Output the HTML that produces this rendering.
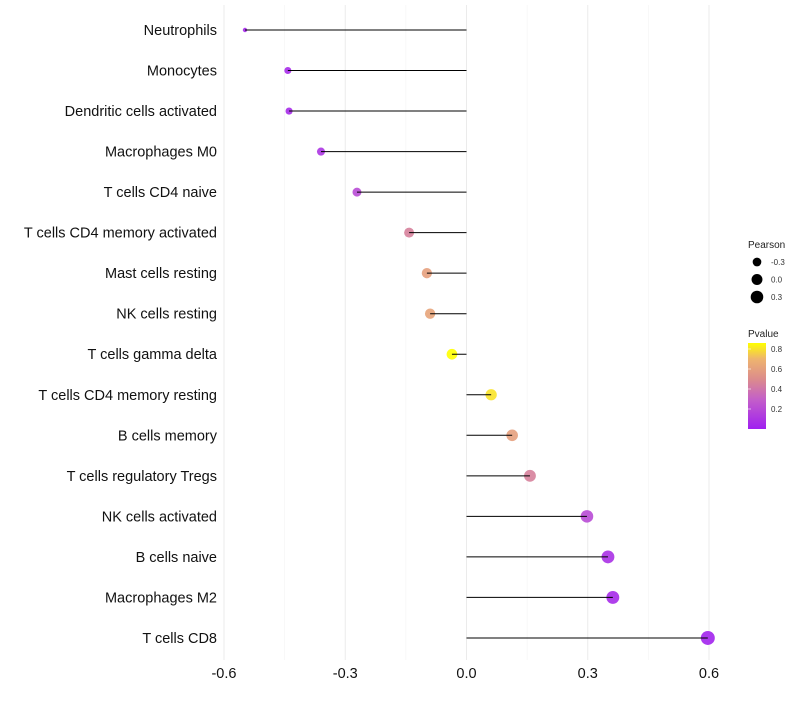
<!DOCTYPE html>
<html><head><meta charset="utf-8"><style>
body{margin:0;background:#fff;font-family:"Liberation Sans",sans-serif}
</style></head><body>
<svg id="chart" width="800" height="700" xmlns="http://www.w3.org/2000/svg" font-family="Liberation Sans, sans-serif"></svg>
<script>
const categories=["Neutrophils","Monocytes","Dendritic cells activated","Macrophages M0","T cells CD4 naive","T cells CD4 memory activated","Mast cells resting","NK cells resting","T cells gamma delta","T cells CD4 memory resting","B cells memory","T cells regulatory  Tregs ","NK cells activated","B cells naive","Macrophages M2","T cells CD8"];
const pearson=[-0.548,-0.442,-0.439,-0.36,-0.271,-0.142,-0.098,-0.09,-0.036,0.061,0.113,0.157,0.298,0.35,0.362,0.597];
const pvalue=[0.04,0.05,0.05,0.1,0.2,0.45,0.6,0.62,0.86,0.8,0.6,0.45,0.2,0.08,0.05,0.02];
const xTicks=[-0.6,-0.3,0.0,0.3,0.6];
const xTickLabels=["-0.6","-0.3","0.0","0.3","0.6"];
const sizeLegend=[-0.3,0.0,0.3];
const pLegendTicks=[0.2,0.4,0.6,0.8];

const svg=document.getElementById('chart');
const NS="http://www.w3.org/2000/svg";
const x=v=>466.5+v*404.2;
const y=i=>30+i*40.53;
const r=v=>2+5*Math.sqrt(Math.max(0,(v+0.55))/1.15);
const stops=[[0,[160,32,240]],[0.3,[196,96,200]],[0.5,[220,140,140]],[0.7,[238,180,110]],[0.86,[255,255,0]]];
function col(p){p=Math.max(0,Math.min(0.86,p));for(let k=1;k<stops.length;k++){if(p<=stops[k][0]){const a=stops[k-1],b=stops[k],t=(p-a[0])/(b[0]-a[0]);return 'rgb('+a[1].map((c,j)=>Math.round(c+(b[1][j]-c)*t)).join(',')+')';}}return 'rgb(255,255,0)';}
function el(t,attrs,txt){const e=document.createElementNS(NS,t);for(const k in attrs)e.setAttribute(k,attrs[k]);if(txt!==undefined)e.textContent=txt;svg.appendChild(e);return e;}

for(let k=0;k<xTicks.length-1;k++){const m=(xTicks[k]+xTicks[k+1])/2;
const g=el('line',{x1:x(m),x2:x(m),y1:5,y2:660,stroke:'#f4f4f4','stroke-width':0.6});

}
xTicks.forEach((t,k)=>{
const g=el('line',{x1:x(t),x2:x(t),y1:5,y2:660,stroke:'#ebebeb','stroke-width':1});


const l=el('text',{x:x(t),y:678,'text-anchor':'middle','font-size':14.5,fill:'#111'},xTickLabels[k]);


});
categories.forEach((c,i)=>{
const l=el('text',{x:217,y:y(i)+5,'text-anchor':'end','font-size':14.5,fill:'#111'},c);


const d=el('circle',{cx:x(pearson[i]),cy:y(i),r:r(pearson[i]),fill:col(pvalue[i]),'fill-opacity':0.9});


const s=el('line',{x1:x(0),x2:x(pearson[i]),y1:y(i),y2:y(i),stroke:'#000','stroke-width':1});


});
const lt=el('text',{x:748,y:248,'font-size':10,fill:'#222'},'Pearson');


sizeLegend.forEach((v,k)=>{
const cy=262+k*17.5;
const c=el('circle',{cx:757,cy:cy,r:r(v),fill:'#000'});


const t=el('text',{x:771,y:cy+3,'font-size':8,fill:'#333'},v.toFixed(1));


});
const pt=el('text',{x:748,y:337,'font-size':10,fill:'#222'},'Pvalue');


const defs=el('defs',{});
const lg=document.createElementNS(NS,'linearGradient');lg.setAttribute('id','pg');lg.setAttribute('x1',0);lg.setAttribute('x2',0);lg.setAttribute('y1',1);lg.setAttribute('y2',0);
stops.forEach(s=>{const st=document.createElementNS(NS,'stop');st.setAttribute('offset',s[0]/0.86);st.setAttribute('stop-color','rgb('+s[1].join(',')+')');lg.appendChild(st);});
defs.appendChild(lg);
const bar=el('rect',{x:748,y:343,width:18,height:86,fill:'url(#pg)'});


pLegendTicks.forEach(p=>{const yy=429-p*100;
const t=el('text',{x:771,y:yy+3,'font-size':8,fill:'#333'},p.toFixed(1));


const tk=el('line',{x1:748,x2:751,y1:yy,y2:yy,stroke:'#fff','stroke-width':0.6});


});
</script>
</body></html>
